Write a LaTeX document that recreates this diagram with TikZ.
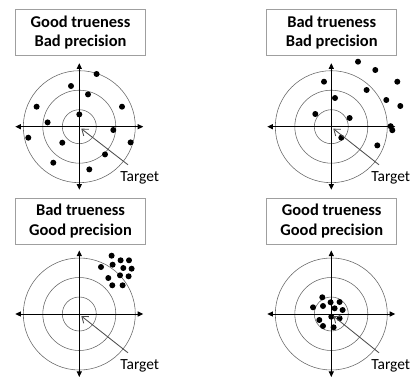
\documentclass[tikz,border=0pt]{standalone}
\usepackage{fontspec}
\setmainfont{Carlito}
\usepackage{tikz}
\usetikzlibrary{calc,arrows.meta}
\colorlet{ringGray}{gray!80!black}
\colorlet{boxGray}{gray!75}
\colorlet{pointerGray}{gray!60!black}

\begin{document}
\begin{tikzpicture}[x=0.025cm, y=0.025cm,
        every node/.style={font=\fontsize{11}{14}\selectfont, align=center},
        titlebox/.style={draw=boxGray, line width=0.5pt, minimum width=3.25cm, minimum height=1.15cm, inner sep=0pt, font=\fontsize{11.7}{13.8}\selectfont\bfseries},
        ring/.style={draw=ringGray, line width=0.4pt},
        axis/.style={line width=0.7pt, {Triangle[length=4pt,width=3.6pt]}-{Triangle[length=4pt,width=3.6pt]}},
        pointer/.style={draw=pointerGray, line width=0.6pt, -{Straight Barb[length=4pt,width=6pt]}},
        targetlabel/.style={anchor=base west, inner sep=0pt}]
    \useasboundingbox (0,0) rectangle (412,376);

    % centres of the four targets
    \coordinate (C1) at (79.3,249.3);
    \coordinate (C2) at (331.3,249.3);
    \coordinate (C3) at (79.3,62);
    \coordinate (C4) at (331.3,62);

    % titles
    \node[titlebox] (B1) at (80.5,343.5) {Good trueness\\Bad precision};
    \node[titlebox] (B2) at (331.7,343.5) {Bad trueness\\Bad precision};
    \node[titlebox] (B3) at (80.5,155) {Bad trueness\\Good precision};
    \node[titlebox] (B4) at (331.7,155) {Good trueness\\Good precision};

    % rings and axes
    \begin{scope}[shift={(C1)}]
        \draw[ring] (0,0) circle (17) (0,0) circle (36.5) (0,0) circle (56);
        \draw[axis] (-64,0) -- (64,0);
        \draw[axis] (0,63.5) -- (0,-63);
        \fill (17.3,52.7) circle (3) (-8.3,40.7) circle (3) (8.7,32.3) circle (3)
              (-42.7,20) circle (3) (42.7,20) circle (3) (0,12.3) circle (3)
              (-31.7,4.3) circle (3) (34,-3.3) circle (3) (-51,-11) circle (3)
              (-17,-16) circle (3) (51.3,-15.7) circle (3) (25.7,-27.7) circle (3)
              (-26,-36) circle (3) (10,-42.7) circle (3);
    \end{scope}
    \begin{scope}[shift={(C2)}]
        \draw[ring] (0,0) circle (17) (0,0) circle (36.5) (0,0) circle (56);
        \draw[axis] (-64,0) -- (64,0);
        \draw[axis] (0,63.5) -- (0,-63);
        \fill (26.7,65) circle (3) (44,56.7) circle (3) (-7.3,45) circle (3)
              (66,45) circle (3) (35.3,36.7) circle (3) (3.7,28.7) circle (3)
              (55,26.7) circle (3) (69,20.7) circle (3) (-16,12.7) circle (3)
              (18.3,8.7) circle (3) (59.3,0.5) circle (3) (61,-3.5) circle (3)
              (10,-11) circle (3) (46,-18.7) circle (3);
    \end{scope}
    \begin{scope}[shift={(C3)}]
        \draw[ring] (0,0) circle (17) (0,0) circle (36.5) (0,0) circle (56);
        \draw[axis] (-64,0) -- (64,0);
        \draw[axis] (0,63.5) -- (0,-63);
        \fill (32.3,58.3) circle (3) (33.3,49.3) circle (3) (41.3,53.7) circle (3)
              (49.7,53.7) circle (3) (21.7,47) circle (3) (44,46) circle (3)
              (52.3,45.3) circle (3) (29,36) circle (3) (40.7,38.7) circle (3)
              (49.3,37.7) circle (3) (33,28.7) circle (3) (43.3,28.7) circle (3);
    \end{scope}
    \begin{scope}[shift={(C4)}]
        \draw[ring] (0,0) circle (17) (0,0) circle (36.5) (0,0) circle (56);
        \draw[axis] (-64,0) -- (64,0);
        \draw[axis] (0,63.5) -- (0,-63);
        \fill (-9,16.7) circle (3) (-0.7,11.7) circle (3) (8.3,12) circle (3)
              (-18.3,6.7) circle (3) (-8.3,8) circle (3) (3.3,5.7) circle (3)
              (11.3,4) circle (3) (-12,-6) circle (3) (0,-2.7) circle (3)
              (8.3,-4.3) circle (3) (-8.3,-12) circle (3) (2.3,-13.3) circle (3);
    \end{scope}

    % target labels
    \node[targetlabel] (L1) at (120,195) {Target};
    \node[targetlabel] (L2) at (371,195) {Target};
    \node[targetlabel] (L3) at (120,7) {Target};
    \node[targetlabel] (L4) at (371,7) {Target};

    \draw[pointer] ($(L1.north west)+(8,6)$) -- ($(C1)+(2,-2)$);
    \draw[pointer] ($(L2.north west)+(8,6)$) -- ($(C2)+(2,-2)$);
    \draw[pointer] ($(L3.north west)+(8,6)$) -- ($(C3)+(2,-2)$);
    \draw[pointer] ($(L4.north west)+(8,6)$) -- ($(C4)+(2,-2)$);
\end{tikzpicture}
\end{document}
